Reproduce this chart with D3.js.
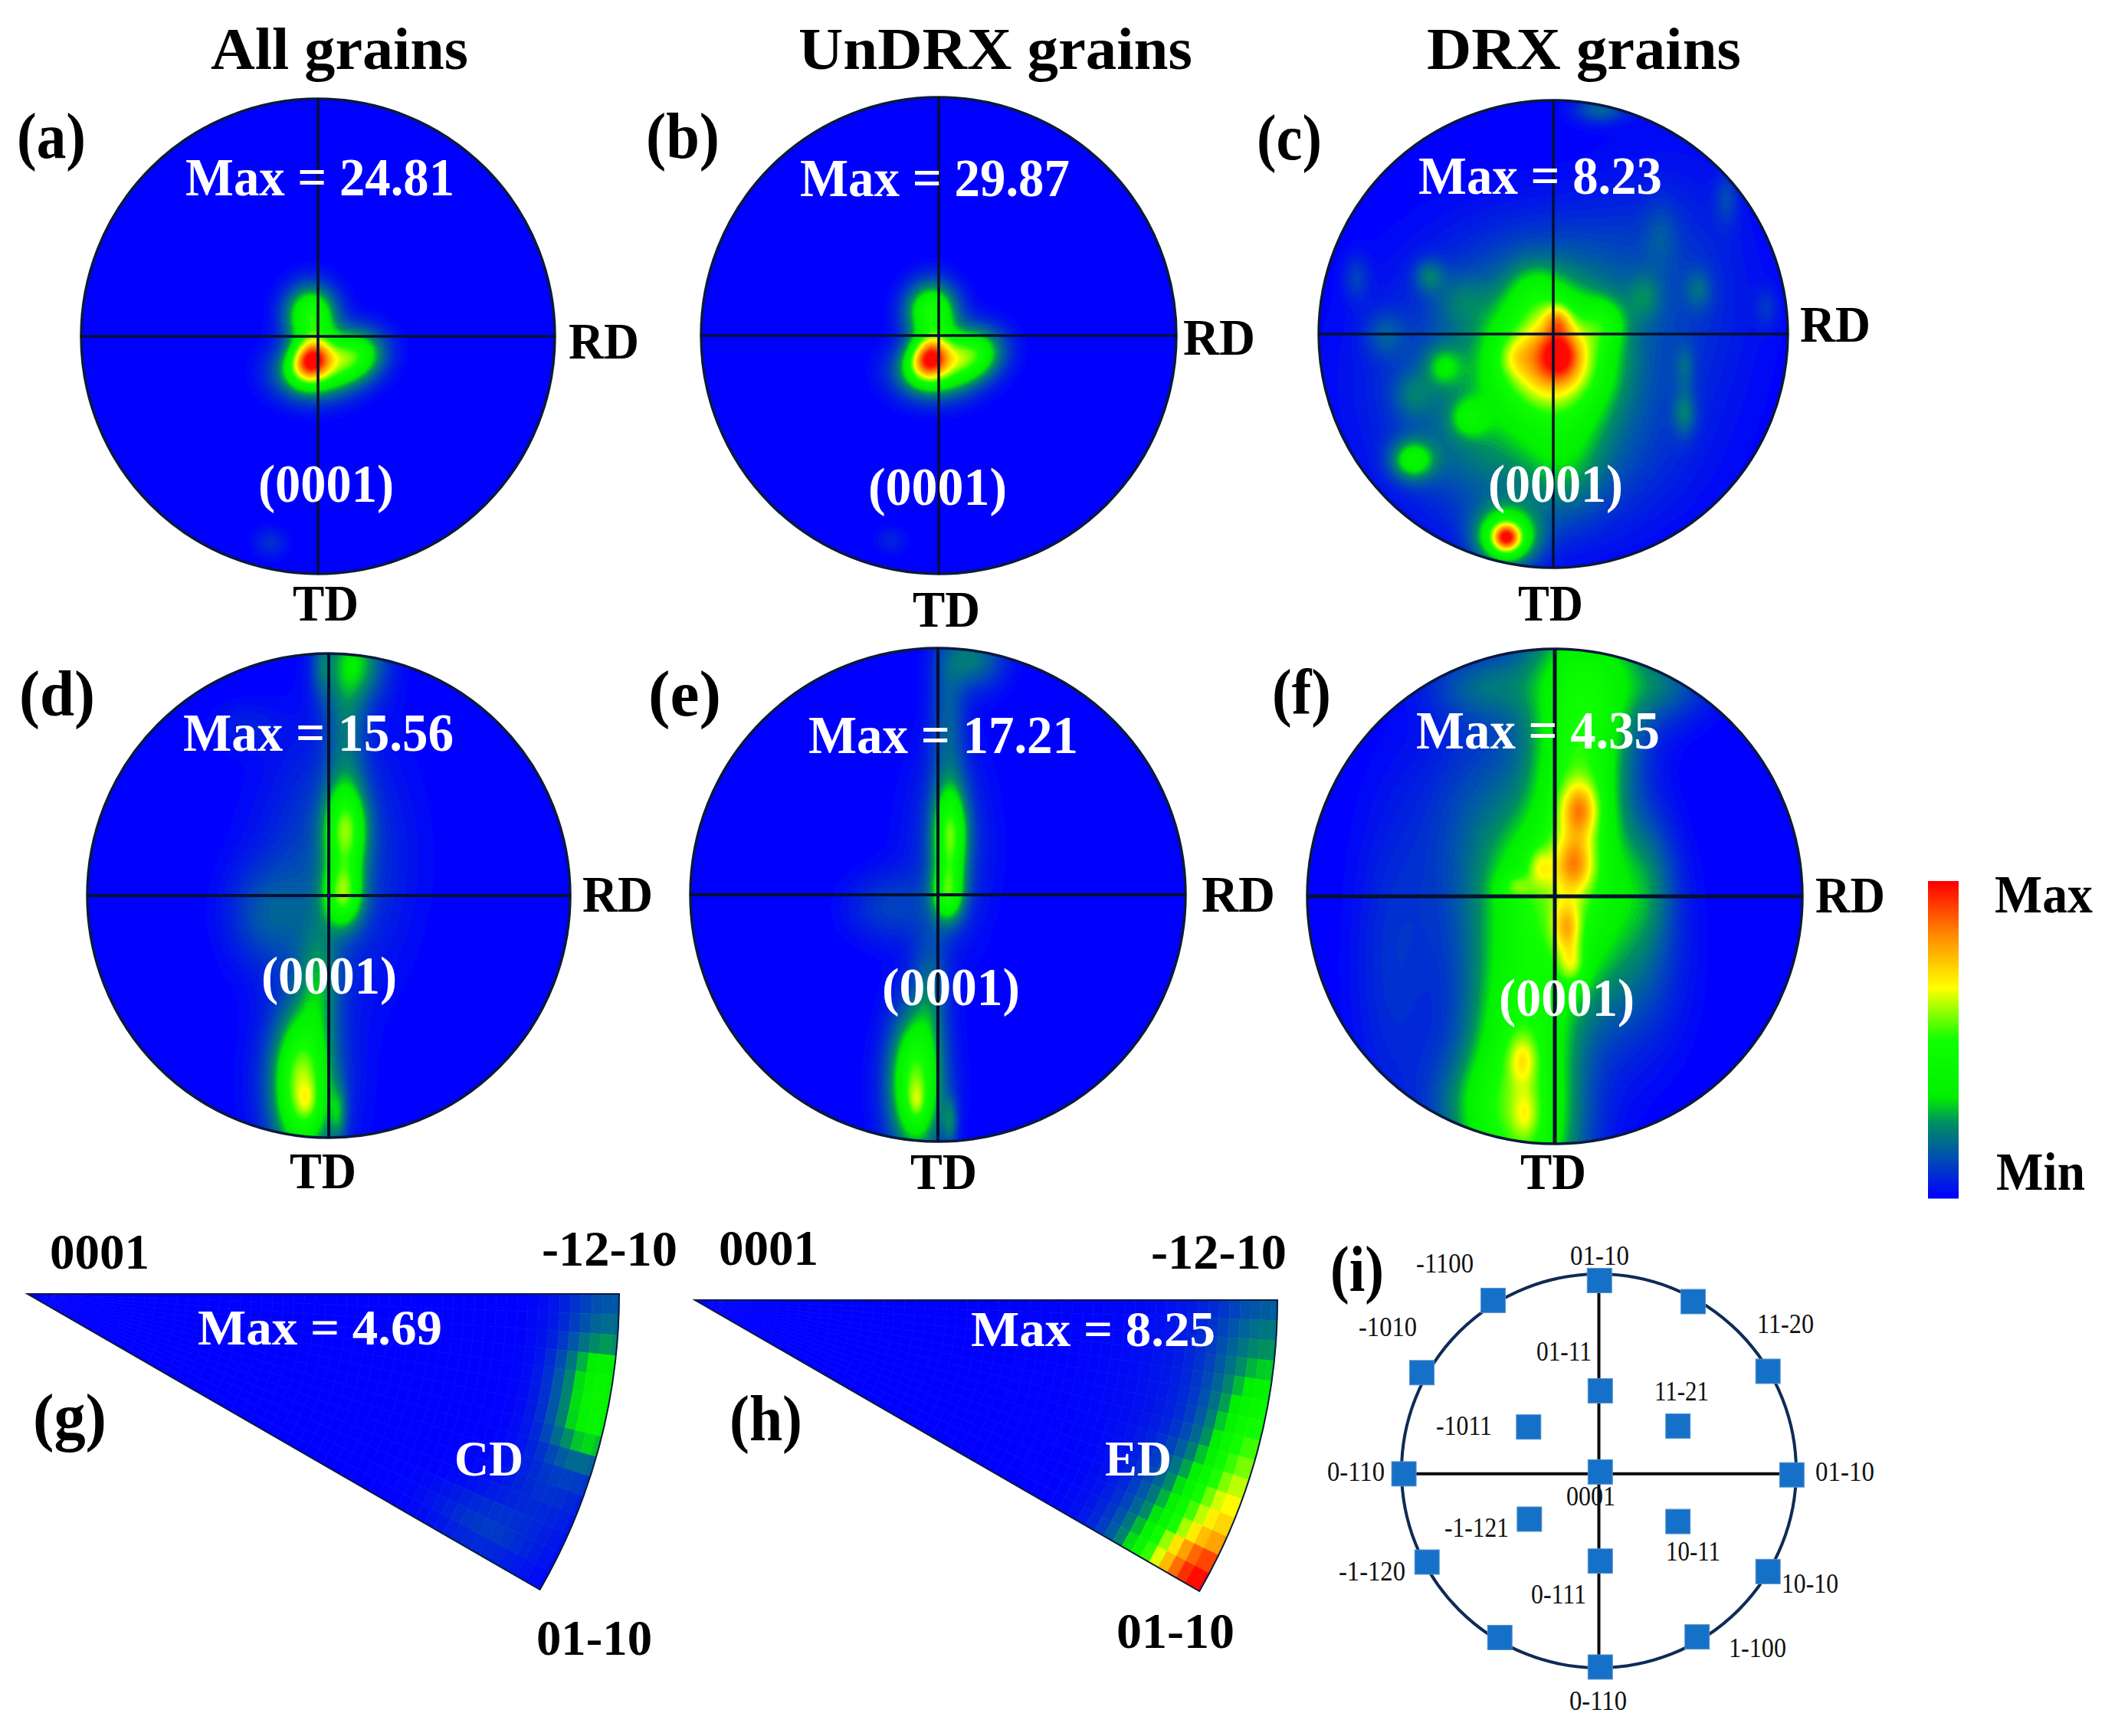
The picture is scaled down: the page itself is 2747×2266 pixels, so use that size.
<!DOCTYPE html>
<html>
<head>
<meta charset="utf-8">
<title>Pole figures</title>
<script src="https://d3js.org/d3.v7.min.js"></script>
<style>
  html, body { margin: 0; padding: 0; background: #fff; }
  text { font-family: "Liberation Serif", "Times New Roman", serif; }
</style>
</head>
<body>
<div id="chart"></div>
<script>
// Values
const columnTitles = ["All grains", "UnDRX grains", "DRX grains"];
const panelNames = ["(a)", "(b)", "(c)", "(d)", "(e)", "(f)", "(g)", "(h)", "(i)"];
const maxValues = [24.81, 29.87, 8.23, 15.56, 17.21, 4.35, 4.69, 8.25];

const colorStops = [0, 0.13, 0.24, 0.32, 0.5, 0.665, 0.83, 1];
const colorValues = ["#0000ff", "#0050b0", "#009060", "#00f000", "#10ff00", "#ffff00", "#ff8c00", "#ff0000"];

// density peaks per pole figure: x, y (unit disc, y down), spread x, spread y, height (0-1 of Max), tilt deg
const peaksA = [
  [-0.03, 0.095, 0.055, 0.065, 0.63, 30], [-0.03, -0.09, 0.075, 0.085, 0.5, 0],
  [0.15, 0.08, 0.09, 0.075, 0.46, -15], [-0.02, 0.15, 0.11, 0.08, 0.42, 0],
  [-0.2, 0.87, 0.05, 0.045, 0.08, 0]
];
const peaksB = [
  [-0.04, 0.09, 0.055, 0.065, 0.63, 30], [-0.03, -0.1, 0.075, 0.085, 0.5, 0],
  [0.14, 0.075, 0.09, 0.075, 0.46, -15], [-0.02, 0.15, 0.11, 0.08, 0.42, 0],
  [-0.2, 0.86, 0.045, 0.04, 0.06, 0]
];
const peaksC = [
  [0.0, 0.1, 0.19, 0.2, 0.46, 0], [0.0, 0.1, 0.13, 0.13, 0.28, 0],
  [0.03, 0.09, 0.055, 0.07, 0.22, 0], [0.02, -0.06, 0.04, 0.05, 0.22, 0],
  [-0.17, 0.1, 0.05, 0.06, 0.1, 0], [-0.08, -0.18, 0.08, 0.09, 0.12, 0],
  [0.22, -0.05, 0.06, 0.07, 0.16, 0], [-0.47, 0.14, 0.055, 0.06, 0.17, 0],
  [-0.36, 0.36, 0.055, 0.055, 0.17, 0], [-0.6, 0.54, 0.065, 0.06, 0.32, 0],
  [-0.2, 0.87, 0.04, 0.04, 0.5, 0], [-0.2, 0.87, 0.09, 0.085, 0.5, 0],
  [0.56, 0.34, 0.035, 0.07, 0.14, 0], [0.56, 0.14, 0.03, 0.07, 0.09, 0],
  [0.62, -0.19, 0.04, 0.06, 0.1, 0], [0.39, -0.16, 0.05, 0.07, 0.1, 0],
  [0.46, -0.43, 0.05, 0.1, 0.06, 0], [0.74, -0.58, 0.035, 0.08, 0.09, 0],
  [-0.53, -0.25, 0.045, 0.05, 0.14, 0], [-0.84, -0.24, 0.04, 0.07, 0.09, 0],
  [0.2, -0.96, 0.08, 0.04, 0.16, 0], [-0.4, -0.15, 0.08, 0.08, 0.08, 0],
  [-0.72, 0.0, 0.06, 0.07, 0.1, 0], [-0.6, 0.26, 0.06, 0.07, 0.1, 0],
  [0.05, 0.55, 0.12, 0.18, 0.12, 0], [0.91, -0.11, 0.035, 0.06, 0.07, 0],
  [-0.3, 0.2, 0.33, 0.33, 0.16, 0], [-0.3, 0.55, 0.2, 0.2, 0.08, 0],
  [0.15, 0.5, 0.28, 0.25, 0.1, 0], [0.5, -0.15, 0.25, 0.4, 0.09, 0],
  [0.0, -0.3, 0.3, 0.2, 0.08, 0]
];
const peaksD = [
  [0.07, -0.27, 0.06, 0.13, 0.46, 0], [0.06, 0.0, 0.055, 0.09, 0.42, 0],
  [0.02, -0.15, 0.2, 0.35, 0.13, 0], [0.11, -0.97, 0.09, 0.12, 0.27, 0],
  [-0.03, -0.95, 0.03, 0.1, 0.1, 0], [0.07, -0.7, 0.06, 0.2, 0.15, 0],
  [-0.11, 0.78, 0.08, 0.2, 0.5, 0], [-0.09, 0.85, 0.03, 0.05, 0.1, 0],
  [-0.1, 0.78, 0.14, 0.25, 0.12, 0], [0.04, 0.9, 0.025, 0.08, 0.16, 0],
  [-0.25, 0.08, 0.12, 0.15, 0.12, 0], [-0.04, 0.35, 0.06, 0.16, 0.18, 0],
  [-0.35, -0.7, 0.1, 0.07, 0.05, 0]
];
const peaksE = [
  [0.05, -0.24, 0.048, 0.14, 0.46, 0], [0.04, 0.0, 0.045, 0.08, 0.34, 0],
  [0.04, -0.2, 0.12, 0.28, 0.1, 0], [0.14, -0.96, 0.09, 0.09, 0.2, 0],
  [0.04, -0.7, 0.05, 0.2, 0.14, 0], [-0.09, 0.76, 0.07, 0.19, 0.48, 0],
  [-0.085, 0.84, 0.025, 0.05, 0.12, 0], [-0.09, 0.78, 0.11, 0.23, 0.08, 0],
  [0.05, 0.92, 0.022, 0.07, 0.16, 0], [-0.2, 0.05, 0.12, 0.1, 0.1, 0],
  [-0.03, 0.38, 0.05, 0.16, 0.14, 0]
];
const peaksF = [
  [0.13, -0.95, 0.19, 0.2, 0.3, 0], [0.11, -0.65, 0.14, 0.2, 0.3, 0],
  [0.1, -0.35, 0.13, 0.2, 0.3, 0], [0.05, -0.08, 0.2, 0.18, 0.3, 0],
  [-0.02, 0.18, 0.22, 0.2, 0.3, 0], [-0.13, 0.5, 0.16, 0.2, 0.3, 0],
  [-0.13, 0.8, 0.16, 0.2, 0.3, 0], [-0.13, 1.05, 0.16, 0.2, 0.3, 0],
  [0.1, -0.35, 0.055, 0.08, 0.32, 0], [0.08, -0.13, 0.055, 0.08, 0.27, 0],
  [0.05, 0.13, 0.04, 0.075, 0.28, 0], [0.07, 0.28, 0.04, 0.06, 0.22, 0],
  [-0.06, -0.12, 0.035, 0.055, 0.16, 0], [-0.16, -0.04, 0.045, 0.035, 0.16, 0],
  [-0.13, 0.66, 0.04, 0.07, 0.18, 0], [-0.12, 0.88, 0.035, 0.07, 0.12, 0],
  [-0.25, -0.3, 0.2, 0.3, 0.15, 0], [0.38, -0.05, 0.08, 0.2, 0.12, 0],
  [0.45, -0.85, 0.13, 0.1, 0.12, 0], [-0.3, -0.85, 0.15, 0.1, 0.14, 0],
  [-0.35, 0.85, 0.13, 0.16, 0.12, 0], [0.3, 0.35, 0.15, 0.25, 0.1, 0],
  [-0.65, 0.3, 0.12, 0.45, 0.08, 0]
];
const poleFigurePeaks = [peaksA, peaksB, peaksC, peaksD, peaksE, peaksF];

// inverse pole figure peaks: radius fraction, angle deg from the 0001 - -12-10 edge, spread r, spread deg, height
const ipfPeaksG = [
  [0.99, 8, 0.05, 2.8, 0.32], [0.99, 13.5, 0.05, 2.8, 0.32],
  [1.0, 1.5, 0.06, 3, 0.13], [0.88, 27, 0.07, 2.5, 0.09],
  [0.95, 20.5, 0.06, 3, 0.07]
];
const ipfPeaksH = [
  [1.0, 30, 0.09, 3, 0.65], [1.0, 24, 0.085, 5, 0.6],
  [1.0, 14, 0.055, 5, 0.36], [1.0, 4, 0.07, 5, 0.12],
  [1.0, 10, 0.15, 10, 0.06]
];

// standard triangle key, unit disc
const keyLabels = ["01-10", "-1100", "-1010", "11-20", "01-11", "11-21", "-1011", "0-110", "01-10", "0001", "-1-121", "10-11", "-1-120", "10-10", "0-111", "1-100", "0-110"];
const keyX = [0.003, -0.536, 0.478, -0.897, 0.857, 0.007, -0.356, 0.401, -0.988, 0.978, 0.007, -0.352, 0.401, -0.871, 0.857, 0.007, -0.502, 0.498, 0.007];
const keyY = [-0.967, -0.866, -0.86, -0.499, -0.506, -0.407, -0.223, -0.228, 0.015, 0.02, 0.005, 0.245, 0.257, 0.463, 0.511, 0.458, 0.846, 0.843, 0.996];

// Layout, in page pixels
const poleLayout = [
  {cx: 415, cy: 439, rx: 309, ry: 310, lw: 3.5, max: [242, 593, 255], hkl: [337, 514, 655], rd: [742, 834, 468], td: [382, 468, 810]},
  {cx: 1225, cy: 438, rx: 310, ry: 311, lw: 3.5, max: [1044, 1396, 256], hkl: [1133, 1314, 659], rd: [1544, 1638, 463], td: [1191, 1279, 818]},
  {cx: 2027, cy: 436, rx: 306, ry: 305, lw: 3.5, max: [1851, 2169, 253], hkl: [1942, 2118, 655], rd: [2349, 2441, 446], td: [1981, 2066, 810]},
  {cx: 429, cy: 1169, rx: 315, ry: 316, lw: 4, max: [239, 592, 980], hkl: [341, 518, 1297], rd: [760, 852, 1190], td: [378, 465, 1551]},
  {cx: 1224, cy: 1168, rx: 323, ry: 322, lw: 4, max: [1055, 1407, 983], hkl: [1151, 1331, 1312], rd: [1568, 1664, 1190], td: [1188, 1275, 1552]},
  {cx: 2029, cy: 1170, rx: 323, ry: 323, lw: 5, max: [1848, 2166, 977], hkl: [1956, 2133, 1326], rd: [2369, 2460, 1191], td: [1984, 2070, 1552]}
];
const titleLayout = [[275, 611], [1042, 1556], [1862, 2272]];
const panelLabelLayout = [[22, 112, 206], [843, 939, 206], [1640, 1725, 208], [25, 124, 934], [846, 941, 934], [1660, 1737, 932], [43, 139, 1878], [952, 1047, 1880], [1736, 1806, 1685]];
const ipfLayout = [
  {x0: 36, y0: 1689, r: 772, peaks: ipfPeaksG, maxText: [258, 577, 1755], name: "CD", nameAt: [593, 683, 1926], hkl: [[65, 195, 1656], [707, 884, 1652], [700, 851, 2160]]},
  {x0: 907, y0: 1697, r: 760, peaks: ipfPeaksH, maxText: [1267, 1586, 1757], name: "ED", nameAt: [1442, 1529, 1926], hkl: [[938, 1068, 1651], [1502, 1679, 1656], [1457, 1611, 2151]]}
];
const ipfCorners = ["0001", "-12-10", "01-10"];
const keyLabelLayout = [[2049, 2126, 1651], [1848, 1923, 1661], [1773, 1849, 1744], [2293, 2367, 1740], [2005, 2077, 1776], [2159, 2230, 1828], [1874, 1947, 1873], [1732, 1807, 1933], [2369, 2446, 1933], [2044, 2108, 1965], [1885, 1969, 2006], [2174, 2245, 2037], [1747, 1834, 2063], [2325, 2399, 2079], [1998, 2070, 2093], [2256, 2331, 2163], [2048, 2123, 2232]];

(function() {
    const svg = d3.select("#chart")
        .append("svg")
        .attr("width", 2747)
        .attr("height", 2266)
        .style("display", "block")
        .style("background", "#fff");

    const color = d3.scaleLinear().domain(colorStops).range(colorValues).clamp(true);
    const BLUE = color(0);
    const OUTLINE = "#0b1a3c";

    // text squeezed to the width it has in the figure
    function label(parent, str, x0, x1, y, size, opts) {
        const o = opts || {};
        return parent.append("text")
            .attr("x", x0)
            .attr("y", y)
            .attr("textLength", x1 - x0)
            .attr("lengthAdjust", "spacingAndGlyphs")
            .style("font-size", size + "px")
            .style("font-weight", o.regular ? "400" : "700")
            .style("fill", o.fill || "#000")
            .text(str);
    }

    function density(peaks, x, y) {
        let v = 0;
        peaks.forEach(p => {
            const a = (p[5] || 0) * Math.PI / 180;
            const dx = x - p[0], dy = y - p[1];
            const u = (dx * Math.cos(a) + dy * Math.sin(a)) / p[2];
            const w = (-dx * Math.sin(a) + dy * Math.cos(a)) / p[3];
            v += p[4] * Math.exp(-0.5 * (u * u + w * w));
        });
        return v;
    }

    // 1. Pole figures (a)-(f)
    const gridSize = 280;
    const levels = d3.range(0.015, 1.0, 0.0125);
    const contours = d3.contours().size([gridSize, gridSize]).thresholds(levels);
    const defs = svg.append("defs");

    poleLayout.forEach((lay, i) => {
        const xUnit = d3.scaleLinear().domain([-1, 1]).range([lay.cx - lay.rx, lay.cx + lay.rx]);
        const yUnit = d3.scaleLinear().domain([-1, 1]).range([lay.cy - lay.ry, lay.cy + lay.ry]);
        const gridToUnit = d3.scaleLinear().domain([0, gridSize]).range([-1.03, 1.03]);

        const values = new Float64Array(gridSize * gridSize);
        for (let r = 0; r < gridSize; r++) {
            for (let c = 0; c < gridSize; c++) {
                values[r * gridSize + c] = density(poleFigurePeaks[i], gridToUnit(c + 0.5), gridToUnit(r + 0.5));
            }
        }

        const path = d3.geoPath(d3.geoTransform({
            point(x, y) { this.stream.point(xUnit(gridToUnit(x)), yUnit(gridToUnit(y))); }
        }));

        defs.append("clipPath").attr("id", "disc" + i)
            .append("ellipse")
            .attr("cx", lay.cx).attr("cy", lay.cy).attr("rx", lay.rx).attr("ry", lay.ry);

        const g = svg.append("g");
        g.append("ellipse")
            .attr("cx", lay.cx).attr("cy", lay.cy).attr("rx", lay.rx).attr("ry", lay.ry)
            .attr("fill", BLUE);

        g.append("g").attr("clip-path", `url(#disc${i})`)
            .selectAll("path")
            .data(contours(values))
            .enter().append("path")
            .attr("d", path)
            .attr("fill", d => color(d.value));

        g.append("ellipse")
            .attr("cx", lay.cx).attr("cy", lay.cy).attr("rx", lay.rx).attr("ry", lay.ry)
            .attr("fill", "none").attr("stroke", OUTLINE).attr("stroke-width", 3.5);

        g.append("line")
            .attr("x1", xUnit(-1)).attr("x2", xUnit(1))
            .attr("y1", yUnit(0)).attr("y2", yUnit(0))
            .attr("stroke", "#051030").attr("stroke-width", lay.lw);
        g.append("line")
            .attr("x1", xUnit(0)).attr("x2", xUnit(0))
            .attr("y1", yUnit(-1)).attr("y2", yUnit(1))
            .attr("stroke", "#051030").attr("stroke-width", lay.lw);

        label(g, `Max = ${maxValues[i]}`, lay.max[0], lay.max[1], lay.max[2], 70, {fill: "#fff"});
        label(g, "(0001)", lay.hkl[0], lay.hkl[1], lay.hkl[2], 70, {fill: "#fff"});
        label(g, "RD", lay.rd[0], lay.rd[1], lay.rd[2], 68);
        label(g, "TD", lay.td[0], lay.td[1], lay.td[2], 68);
    });

    // 2. Inverse pole figures (g), (h), drawn in the coarse polar cells they have in the figure
    const angleStep = 2;
    const radiusStep = 0.018;
    const deg = Math.PI / 180;

    ipfLayout.forEach((lay, i) => {
        const g = svg.append("g").attr("transform", `translate(${lay.x0},${lay.y0})`);
        const radius = d3.scaleLinear().domain([0, 1]).range([0, lay.r]);
        const angle = d3.scaleLinear().domain([0, 30]).range([90 * deg, 120 * deg]);

        const arc = d3.arc();
        const cells = [];
        d3.range(0, 30, angleStep).forEach(a => {
            d3.range(0, 0.999, radiusStep).forEach(r => {
                let v = 0;
                lay.peaks.forEach(p => {
                    const ur = (r + radiusStep - p[0]) / p[2];
                    const ua = (a + angleStep / 2 - p[1]) / p[3];
                    v += p[4] * Math.exp(-0.5 * (ur * ur + ua * ua));
                });
                cells.push({a, r, v});
            });
        });

        g.selectAll("path.cell")
            .data(cells)
            .enter().append("path")
            .attr("class", "cell")
            .attr("d", d => arc({
                innerRadius: radius(d.r),
                outerRadius: radius(Math.min(1, d.r + radiusStep)),
                startAngle: angle(d.a),
                endAngle: angle(d.a + angleStep)
            }))
            .attr("fill", d => color(d.v))
            .attr("stroke", d => color(d.v))
            .attr("stroke-width", 0.6);

        g.append("path")
            .attr("d", arc({innerRadius: 0, outerRadius: lay.r, startAngle: angle(0), endAngle: angle(30)}))
            .attr("fill", "none")
            .attr("stroke", OUTLINE)
            .attr("stroke-width", 2);

        label(svg, `Max = ${maxValues[6 + i]}`, lay.maxText[0], lay.maxText[1], lay.maxText[2], 66, {fill: "#fff"});
        label(svg, lay.name, lay.nameAt[0], lay.nameAt[1], lay.nameAt[2], 66, {fill: "#fff"});
        ipfCorners.forEach((t, k) => {
            label(svg, t, lay.hkl[k][0], lay.hkl[k][1], lay.hkl[k][2], 66);
        });
    });

    // 3. Colour bar
    const barY = d3.scaleLinear().domain([0, 1]).range([1564, 1152]);
    const barSteps = d3.range(0, 1, 1 / 206);
    svg.append("g").selectAll("rect")
        .data(barSteps)
        .enter().append("rect")
        .attr("x", 2516)
        .attr("width", 40)
        .attr("y", d => barY(d + 1 / 206))
        .attr("height", barY(0) - barY(1 / 206) + 0.5)
        .attr("fill", d => color(d));
    label(svg, "Max", 2603, 2731, 1191, 70);
    label(svg, "Min", 2605, 2721, 1553, 70);

    // 4. Key (i)
    const keyXScale = d3.scaleLinear().domain([-1, 1]).range([1829, 2344]);
    const keyYScale = d3.scaleLinear().domain([-1, 1]).range([1663, 2177]);
    const key = svg.append("g");
    key.append("ellipse")
        .attr("cx", keyXScale(0)).attr("cy", keyYScale(0))
        .attr("rx", keyXScale(1) - keyXScale(0)).attr("ry", keyYScale(1) - keyYScale(0))
        .attr("fill", "none").attr("stroke", "#0d2b55").attr("stroke-width", 4);
    key.append("line")
        .attr("x1", keyXScale(-1)).attr("x2", keyXScale(1))
        .attr("y1", keyYScale(0.015)).attr("y2", keyYScale(0.015))
        .attr("stroke", "#0a0a0a").attr("stroke-width", 4);
    key.append("line")
        .attr("x1", keyXScale(0)).attr("x2", keyXScale(0))
        .attr("y1", keyYScale(-1)).attr("y2", keyYScale(1))
        .attr("stroke", "#0a0a0a").attr("stroke-width", 4);
    key.selectAll("rect")
        .data(keyX)
        .enter().append("rect")
        .attr("x", d => keyXScale(d) - 16)
        .attr("y", (d, i) => keyYScale(keyY[i]) - 16)
        .attr("width", 32)
        .attr("height", 32)
        .attr("fill", "#1570c8")
        .attr("stroke", "#5b93c9")
        .attr("stroke-width", 1);
    keyLabels.forEach((t, i) => {
        const p = keyLabelLayout[i];
        label(key, t, p[0], p[1], p[2], 36, {regular: true, fill: "#111"});
    });

    // 5. Titles and panel letters
    columnTitles.forEach((t, i) => {
        label(svg, t, titleLayout[i][0], titleLayout[i][1], 90, 78);
    });
    panelNames.forEach((t, i) => {
        const p = panelLabelLayout[i];
        label(svg, t, p[0], p[1], p[2], 84);
    });
})();
</script>
</body>
</html>
